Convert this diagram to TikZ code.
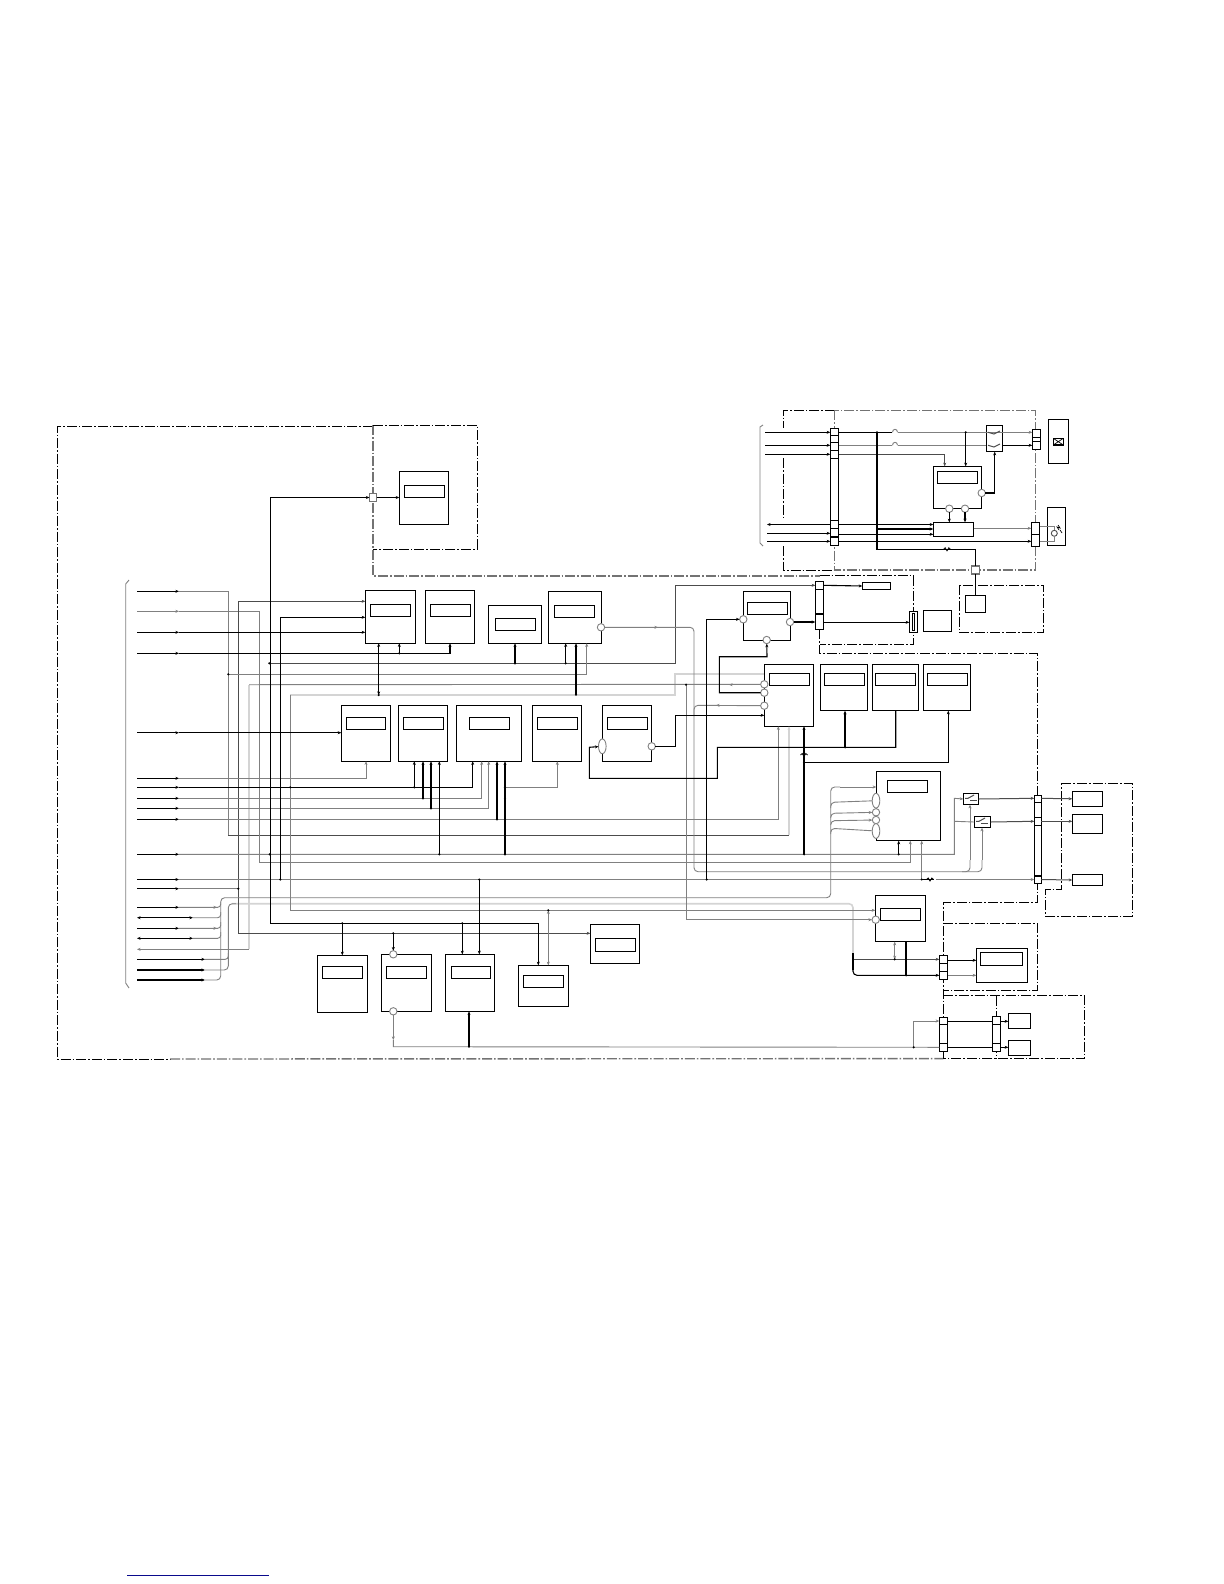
\documentclass[tikz,border=0pt]{standalone}
\usetikzlibrary{arrows.meta,fit,shapes.geometric}
\definecolor{linkblue}{RGB}{10,10,140}
\tikzset{
  >={Stealth[length=1.8pt,width=1.5pt]},
  box/.style={draw=black,fill=white,line width=.6pt,inner sep=0pt,outer sep=0pt},
  tag/.style={draw=black,fill=white,line width=.55pt,inner sep=0pt,outer sep=0pt},
  plug/.style={draw=black,fill=white,line width=.55pt,inner sep=0pt,outer sep=0pt},
  sq/.style={draw=black!55,fill=white,line width=.6pt,inner sep=0pt,outer sep=0pt},
  port/.style={circle,draw=black!50,fill=white,line width=.45pt,inner sep=0pt,outer sep=0pt,minimum size=3.7pt},
  oval/.style={ellipse,draw=black!50,fill=white,line width=.45pt,inner sep=0pt,outer sep=0pt,minimum width=3.8pt,minimum height=7.4pt},
  blk/.style={draw=black,line width=.55pt},
  gry/.style={draw=black!50,line width=.45pt},
  drk/.style={draw=black!70,line width=.5pt},
  lgt/.style={draw=black!17,line width=.8pt},
  dd/.style={draw=black,line width=.45pt,dash pattern=on 5pt off 1pt on .8pt off 1pt},
  ddg/.style={draw=black!55,line width=.7pt,dash pattern=on 5pt off 1pt on .8pt off 1pt},
}
\newcommand\bx[6][box]{\node[#1,fit={(#3,#4)(#5,#6)}] (#2) {};}
\newcommand\dv[2]{\draw[line width=.55pt] (#1.west |- 0,#2) -- (#1.east |- 0,#2);}
\newcommand\dt[2]{\fill[black] (#1,#2) circle (1.2);}
\newcommand\inl[1]{\draw[blk,->] (137,#1) -- (179,#1);}
\newcommand\bump[3][gry]{\draw[#1] (#2-2.5,#3) .. controls (#2-2.5,#3-4) and (#2+2.5,#3-4) .. (#2+2.5,#3);}
\newcommand\zig[2]{\draw[blk,line width=.4pt] (#1-3.5,#2) -- (#1-1.8,#2-1.5) -- (#1,#2+1.5) -- (#1+1.8,#2-1.5) -- (#1+3.5,#2);}
\begin{document}
\begin{tikzpicture}[x=.5pt,y=-.5pt]
\useasboundingbox (0,0) rectangle (1224,1584);
\fill[white] (0,0) rectangle (1224,1584);

% ---------- frames
\draw[dd] (373,426) -- (57.5,426) -- (57.5,1059) -- (170,1059);
\draw[ddg] (170,1059) -- (943.3,1058.6);
\draw[ddg] (373,425) -- (373,576) -- (820,576);
\draw[dd] (373,425) -- (477,425) -- (477,549) -- (373,549);
\draw[dd] (834.7,410.3) -- (783.3,410.3) -- (783.3,428);
\draw[dd] (783.3,458) -- (783.3,518);
\draw[dd] (783.3,546) -- (783.3,570) -- (834.7,570);
\draw[ddg] (834.7,410.3) rectangle (1035.7,570);
\draw[dd] (959.3,585.3) rectangle (1043.7,632.3);
\draw[dd] (819.7,575.7) -- (913.3,575.7) -- (913.3,644.3) -- (819.7,644.3);
\draw[dd] (819.7,629.3) -- (819.7,653.7) -- (1037.3,653.7) -- (1037.3,902.7) -- (943.3,902.7) -- (943.3,1058.6);
\draw[dd] (1061.3,783.7) -- (1132.6,783.7) -- (1132.6,916) -- (1045.7,916) -- (1045.7,889.3) -- (1061.3,889.3) -- cycle;
\draw[dd] (943.3,923.3) -- (1037.3,923.3) -- (1037.3,990.3) -- (943.3,990.3);
\draw[dd] (943.3,995.7) -- (1084.7,995.7) -- (1084.7,1058.3) -- (943.3,1058.3);
\draw[dd] (996.3,995.7) -- (996.3,1058.3);

% ---------- braces
\draw[gry] (129,580) -- (125.7,584) -- (125.7,983) -- (129,988);
\draw[gry] (763,425) -- (760,427) -- (760,543) -- (763,546);

% ---------- boxes with their windows
\bx{A}{399.3}{471.3}{448.7}{524.7} \bx[tag]{Aw}{404.3}{485.3}{444.7}{497.3}
\bx{B}{365.3}{590.3}{415.7}{643.3} \bx[tag]{Bw}{370.3}{604.3}{410.7}{616.7}
\bx{C}{425.3}{590.3}{474.7}{643.3} \bx[tag]{Cw}{430.3}{604.3}{470.7}{616.7}
\bx{D}{488.3}{605.3}{541.7}{643.3} \bx[tag]{Dw}{495.3}{618.3}{535.7}{630.7}
\bx{E}{548.3}{591.3}{601.7}{643.3} \bx[tag]{Ew}{554.3}{605.3}{594.7}{617.7}
\bx{Fa}{341.3}{705.3}{390.7}{761.3} \bx[tag]{Faw}{346.3}{717.3}{385.7}{729.7}
\bx{Fb}{398.3}{705.3}{447.7}{761.3} \bx[tag]{Fbw}{403.3}{717.3}{443.7}{729.7}
\bx{Fc}{456.3}{705.3}{521.7}{761.3} \bx[tag]{Fcw}{469.3}{717.3}{509.7}{729.7}
\bx{Fd}{532.3}{705.3}{581.7}{761.3} \bx[tag]{Fdw}{537.3}{717.3}{577.7}{729.7}
\bx{Fe}{602.3}{705.3}{651.7}{761.3} \bx[tag]{Few}{607.3}{717.3}{647.7}{729.7}
\bx{H}{764.3}{664.3}{813.7}{726.3} \bx[tag]{Hw}{769.3}{673.3}{809.7}{685.7}
\bx{I}{743.3}{591.7}{790.7}{640.3} \bx[tag]{Iw}{747.3}{602.3}{787.7}{614.7}
\bx{Na}{820.3}{664.3}{867.7}{710.7} \bx[tag]{Naw}{824.3}{673.3}{864.7}{685.3}
\bx{Nb}{872.3}{664.3}{918.7}{710.7} \bx[tag]{Nbw}{875.3}{673.3}{915.7}{685.3}
\bx{Nc}{923.3}{664.3}{970.7}{710.7} \bx[tag]{Ncw}{927.3}{673.3}{967.7}{685.3}
\bx{J}{876.3}{771.3}{940.3}{840.7} \bx[tag]{Jw}{887.3}{780.3}{927.7}{792.7}
\bx{K}{875.3}{895.3}{925.7}{941.7} \bx[tag]{Kw}{880.3}{908.3}{920.7}{920.7}
\bx{La}{317.3}{955.3}{367.7}{1012.7} \bx[tag]{Law}{322.3}{966.3}{362.7}{978.7}
\bx{Lb}{381.3}{954.3}{431.7}{1011.3} \bx[tag]{Lbw}{386.3}{966.3}{426.7}{978.7}
\bx{Lc}{445.3}{954.3}{494.7}{1011.3} \bx[tag]{Lcw}{451.3}{966.3}{490.7}{978.7}
\bx{Ld}{518.3}{965.3}{568.3}{1006.7} \bx[tag]{Ldw}{523.3}{975.3}{563.7}{987.7}
\bx{G}{590.3}{924.3}{639.7}{963.3} \bx[tag]{Gw}{595.3}{938.3}{635.7}{951.7}
\bx{Q}{933.3}{466.3}{981.7}{508.7} \bx[tag]{Qw}{937.3}{471.3}{977.7}{483.3}
\bx{O}{976.3}{948.3}{1027.7}{982.3} \bx[tag]{Ow}{980.3}{952.3}{1022.7}{965.7}
\bx{R}{933.3}{522.3}{973.7}{536.7}
\bx{W}{965.3}{595.3}{985.7}{612.7}
\bx{Xb}{923.3}{610.3}{951.7}{631.3}
\bx{Tb}{862.3}{582.3}{890.7}{589.7}
\bx{Ya}{1072.3}{791.3}{1102.7}{806.3}
\bx{Yb}{1072.3}{814.3}{1102.7}{833.7}
\bx{Yc}{1072.3}{874.3}{1102.7}{885.7}
\bx{Pa}{1008.3}{1013.3}{1030.7}{1028.7}
\bx{Pb}{1008.3}{1040.3}{1030.7}{1055.7}
\bx{M}{1048.3}{419.3}{1068.7}{463.3}
\bx{Lp}{1047.3}{507.3}{1065.7}{545.7}
\bx{Sw}{986.3}{425.3}{1002.7}{451.7}
\bx{Sa}{963.3}{793.3}{978.7}{804.7}
\bx{Sb}{974.3}{816.3}{990.7}{827.7}
\bx{Fu}{909.3}{611.3}{917.7}{632.3} \bx[tag]{Fui}{912.3}{613.7}{914.7}{630.3}
\bx[tag]{Mx}{1053.3}{438.3}{1063.3}{445}
\draw[line width=.35pt] (Mx.north west) -- (Mx.south east) (Mx.north east) -- (Mx.south west);

% ---------- plugs
\bx[plug]{Ca}{815.3}{581.3}{823.3}{629.3} \dv{Ca}{589.3} \dv{Ca}{614}
\bx[plug]{Cb}{830.3}{428.3}{838.7}{545.7} \dv{Cb}{435.7} \dv{Cb}{442.7} \dv{Cb}{450.7} \dv{Cb}{458.7} \dv{Cb}{520.3} \dv{Cb}{528.3} \dv{Cb}{537}
\bx[plug]{Cc}{1032.3}{429.3}{1040.7}{449.3} \dv{Cc}{437.3} \dv{Cc}{441.3}
\bx[plug]{Cd}{1031.3}{522.3}{1039.7}{546.3} \dv{Cd}{534.3}
\bx[plug]{Ce}{1034.3}{795.3}{1041.3}{883.7} \dv{Ce}{802.3} \dv{Ce}{817.7} \dv{Ce}{825.3} \dv{Ce}{876}
\bx[plug]{Cf}{939.3}{955.3}{947.7}{979.7} \dv{Cf}{963.3} \dv{Cf}{971.7}
\bx[plug]{Cg}{939.3}{1017.3}{947.7}{1051.3} \dv{Cg}{1024.3} \dv{Cg}{1043.7}
\bx[plug]{Ch}{992.3}{1016.3}{1000.7}{1051.3} \dv{Ch}{1024.3} \dv{Ch}{1043.3}
\bx[sq]{Sqa}{369.5}{493.7}{376.8}{501.3}
\bx[sq]{Sqb}{971.7}{566}{979.7}{574}

% ---------- ports
\node[port] (pe) at (601,627.3) {};
\node[port] (pi1) at (743.3,619.3) {};
\node[port] (pi2) at (790,622) {};
\node[port] (pi3) at (766.7,640) {};
\node[port] (ph1) at (764.3,684.3) {};
\node[port] (ph2) at (764.3,692.7) {};
\node[port] (ph3) at (764.3,705.7) {};
\node[oval] (pfa) at (602.3,746.3) {};
\node[port] (pfb) at (651.7,746.3) {};
\node[oval] (pj1) at (876,800.7) {};
\node[port] (pj2) at (876,812.3) {};
\node[port] (pj3) at (876,820) {};
\node[oval] (pj4) at (876,831) {};
\node[port] (pk) at (875.7,919.7) {};
\node[port] (pla) at (393.3,954.3) {};
\node[port] (plb) at (393.3,1011.3) {};
\node[port] (pq1) at (981.7,493) {};
\node[port] (pq2) at (949.3,508.7) {};
\node[port] (pq3) at (965,508.7) {};
\node[port,minimum size=3pt,draw=black!70] (plamp) at (1054.3,533.3) {};

% ---------- light lines
\draw[lgt] (249,684.7) -- (249,949.3);
\draw[lgt] (290.3,695) -- (674.7,695) -- (674.7,674) -- (H.west |- 0,674);
\draw[lgt,rounded corners=2pt] (232,903.7) -- (853,903.7) -- (853,953);

% ---------- grey lines
\draw[gry] (179,591.3) -- (228.3,591.3) -- (228.3,835.3);
\draw[drk] (228.3,835.3) -- (789,835.3);
\draw[lgt,->] (789,835.3) -- (789,0 |- H.south);
\draw[gry,->] (137,611.3) -- (179,611.3);
\draw[gry,->] (179,611.3) -- (259.3,611.3) -- (259.3,862.5) -- (910.3,862.5) -- (910.3,0 |- J.south);
\draw[drk,->] (238.3,933.3) -- (238.3,601.3) -- (B.west |- 0,601.3);
\draw[drk,->] (238.3,933.3) -- (G.west |- 0,933.3);
\draw[gry] (179,888.7) -- (238.3,888.7);
\draw[drk,->] (269.3,663.3) -- (675.7,663.3) -- (675.7,585.3) -- (Ca.west |- 0,585.3);
\draw[gry,->] (228,674.3) -- (586.7,674.3) -- (586.7,0 |- E.south);
\draw[gry] (249,684.7) -- (ph1);
\draw[gry,<-] (729,684.7) -- (735,684.7);
\draw[gry] (249,949.3) -- (145,949.3);
\draw[gry,->] (145,949.3) -- (137,949.3);
\draw[gry,->] (290.3,695) -- (290.3,910.3) -- (K.west |- 0,910.3);
\draw[gry,->] (686,684.7) -- (686,919.7) -- (pk);
\draw[gry,rounded corners=2pt] (pe) -- (694,627.3) -- (694,871.7) -- (982,871.7) -- (982,860);
\draw[gry,->] (982,860) -- (982,0 |- Sb.south);
\draw[gry,rounded corners=2pt] (962,871.7) -- (970,871.7) -- (970,860);
\draw[gry,->] (970,860) -- (970,0 |- Sa.south);
\draw[gry,->] (650,627.3) -- (658,627.3);
\draw[gry,rounded corners=2pt] (ph3) -- (694,705.3) -- (694,716);
\draw[gry,->] (725,705.3) -- (716,705.3);
\draw[gry,->] (179,778.3) -- (366,778.3) -- (366,0 |- Fa.south);
\draw[gry,->] (179,798.3) -- (481.7,798.3) -- (481.7,0 |- Fc.south);
\draw[gry,->] (179,808.3) -- (488.7,808.3) -- (488.7,0 |- Fc.south);
\draw[gry,->] (179,819.3) -- (778.3,819.3) -- (778.3,0 |- H.south);
\draw[gry,->] (505,787.3) -- (557.3,787.3) -- (557.3,0 |- Fd.south);
\draw[gry,->] (179,854.3) -- (954.3,854.3) -- (954.3,798.3) -- (Sa.west);
\draw[gry] (954.3,821.3) -- (Sb.west);
\draw[gry,->] (179,879.5) -- (921.7,879.5) -- (921.7,0 |- J.south);
\draw[gry,->] (936,879.5) -- (Ce.west |- 0,879.5);
\draw[drk,->] (Ce.east |- 0,879.5) -- (Yc.west);
\draw[drk,->] (Sa.east) -- (Ce.west |- 0,798.3);
\draw[drk,->] (Sb.east) -- (Ce.west |- 0,821.3);
\draw[drk,->] (Ce.east |- 0,798.3) -- (Ya.west);
\draw[drk,->] (Ce.east |- 0,821.3) -- (Yb.west |- 0,821.3);
\draw[gry,rounded corners=2pt] (205,980) -- (220.7,980) -- (220.7,897.7) -- (830.7,897.7) -- (830.7,787) -- (840,787);
\draw[gry,->] (840,787) -- (J.west |- 0,787);
\draw[gry,rounded corners=2pt] (830.7,808) -- (830.7,802.3) -- (pj1);
\draw[gry,<-,rounded corners=2pt] (pj2) -- (830.7,813.3) -- (830.7,818);
\draw[gry,<-,rounded corners=2pt] (pj3) -- (830.7,820.7) -- (830.7,825);
\draw[gry,rounded corners=2pt] (830.7,834) -- (830.7,828.3) -- (pj4);
\draw[gry,rounded corners=1.5pt] (179,907.3) -- (220.7,907.3) -- (220.7,902);
\draw[gry,->] (205,907.3) -- (217,907.3);
\draw[gry,rounded corners=1.5pt] (193,917.7) -- (220.7,917.7) -- (220.7,912);
\draw[gry,rounded corners=1.5pt] (179,928.3) -- (220.7,928.3) -- (220.7,922);
\draw[gry,->] (205,928.3) -- (217,928.3);
\draw[gry,rounded corners=1.5pt] (193,938.3) -- (220.7,938.3) -- (220.7,932);
\draw[gry,rounded corners=2pt] (236,903.7) -- (228.3,903.7) -- (228.3,970) -- (205,970);
\draw[gry,rounded corners=1.5pt] (205,959.3) -- (228.3,959.3) -- (228.3,953);
\draw[gry,<->] (548.3,910.3) -- (548.3,0 |- Ld.north);
\draw[gry,->] (plb) -- (393.3,1040);
\draw[gry] (393.3,1040) -- (393.3,1046.7) -- (Cg.west |- 0,1047.3);
\draw[gry,->] (913.7,1047.3) -- (913.7,1021) -- (Cg.west |- 0,1021);
\draw[gry,<->] (894.7,959.3) -- (894.7,0 |- K.south);
\draw[drk,->,rounded corners=2pt] (853,959.3) -- (Cf.west |- 0,959.3);
\draw[gry,->] (Cf.east |- 0,975.3) -- (O.west |- 0,975.3);
% top right group, grey
\draw[gry,->] (898,432.3) -- (Cc.west |- 0,432.3);
\draw[gry] (898,445.3) -- (Sw.west |- 0,445.3);
\draw[gry] (838.7,445.3) -- (892,445.3);
\bump{895}{445.3}
\bump{895}{432.3}
\draw[gry,->] (R.east |- 0,528.3) -- (Cd.west |- 0,528.3);
\draw[gry] (Cd.east |- 0,526.7) -- (1054.3,526.7) -- (plamp);
\draw[gry] (Cd.east |- 0,541.3) -- (1054.3,541.3) -- (plamp);

% ---------- black lines
\inl{591.3} \inl{632.3} \inl{653.3} \inl{732.7} \inl{778.3} \inl{787.3} \inl{798.3} \inl{808.3} \inl{819.3} \inl{854.3} \inl{879.5} \inl{888.7} \inl{907.3} \inl{928.3}
\draw[blk,<->] (193,917.7) -- (137,917.7);
\draw[blk,<->] (193,938.3) -- (137,938.3);
\draw[blk,->] (137,959.3) -- (205,959.3);
\draw[blk,->] (137,970) -- (205,970);
\draw[blk,->] (137,980) -- (205,980);
\draw[blk,->] (179,632.3) -- (B.west |- 0,632.3);
\draw[blk,->] (179,653.3) -- (450,653.3) -- (450,0 |- C.south);
\draw[blk,->] (399.3,653.3) -- (399.3,0 |- B.south);
\draw[blk,<->] (378.7,695) -- (378.7,0 |- B.south);
\draw[blk,->] (179,732.7) -- (Fa.west |- 0,732.7);
\draw[blk,->] (270.3,923.3) -- (270.3,497.5) -- (Sqa.west);
\draw[blk,->] (Sqa.east) -- (A.west |- 0,497.5);
\draw[blk] (270.3,923.3) -- (538.3,923.3);
\draw[blk,->] (538.3,923.3) -- (538.3,0 |- Ld.north);
\draw[blk,->] (280.3,879.5) -- (280.3,617.3) -- (B.west |- 0,617.3);
\draw[blk,->] (515,663.3) -- (515,0 |- D.south);
\draw[blk,->] (565.7,663.3) -- (565.7,0 |- E.south);
\draw[blk,->] (576,694.7) -- (576,0 |- E.south);
\draw[blk,->] (179,787.3) -- (472.7,787.3) -- (472.7,0 |- Fc.south);
\draw[blk,->] (414.3,787.3) -- (414.3,0 |- Fb.south);
\draw[blk,->] (423,798.3) -- (423,0 |- Fb.south);
\draw[blk,->] (431,808.3) -- (431,0 |- Fb.south);
\draw[blk,->] (439.3,854.3) -- (439.3,0 |- Fb.south);
\draw[blk,->] (497,819.3) -- (497,0 |- Fc.south);
\draw[blk,->] (505,854.3) -- (505,0 |- Fc.south);
\draw[blk,->] (804,854.3) -- (804,0 |- H.south);
\draw[blk,->] (898.7,854.3) -- (898.7,0 |- J.south);
\draw[blk,->] (706.7,879.5) -- (706.7,619.3) -- (pi1);
\draw[blk] (921.7,879.5) -- (934,879.5);
\zig{930}{879.5}
\draw[blk,->] (342.3,923.3) -- (342.3,0 |- La.north);
\draw[blk,->] (393.3,933.3) -- (pla);
\draw[blk,->] (462.3,923.3) -- (462.3,0 |- Lc.north);
\draw[blk,->] (479.3,879.5) -- (479.3,0 |- Lc.north);
\draw[blk,<-] (469,0 |- Lc.south) -- (469,1046.7);
\draw[blk,->] (pfb) -- (675.3,746.3) -- (675.3,715.3) -- (H.west |- 0,715.3);
\draw[blk,<-] (pfa) -- (589.3,747.3) -- (589.3,778.3) -- (717.3,778.3) -- (717.3,747.3) -- (895.7,747.3) -- (895.7,0 |- Nb.south);
\draw[blk,->] (845,747.3) -- (845,0 |- Na.south);
\draw[blk,->] (804,762.3) -- (948.3,762.3) -- (948.3,0 |- Nc.south);
\zig{804}{755}
\draw[blk,->] (ph2) -- (719.3,692.7) -- (719.3,656.7) -- (767,656.7) -- (pi3);
\draw[blk,->] (pi2) -- (Ca.west |- 0,622);
\draw[blk,->] (Ca.east |- 0,585.3) -- (Tb.west);
\draw[blk,->] (Ca.east |- 0,622.3) -- (Fu.west |- 0,622.3);
% top right, black
\draw[blk,->] (765,432.3) -- (Cb.west |- 0,432.3);
\draw[blk,->] (765,445.3) -- (Cb.west |- 0,445.3);
\draw[blk,->] (765,454.3) -- (Cb.west |- 0,454.3);
\draw[blk,<-] (767,524.5) -- (Cb.west |- 0,524.5);
\draw[blk,->] (767,533.3) -- (Cb.west |- 0,533.3);
\draw[blk,->] (767,541.3) -- (Cb.west |- 0,541.3);
\draw[blk] (Cb.east |- 0,432.3) -- (892,432.3);
\draw[drk,->] (Cb.east |- 0,454.3) -- (944.7,454.3) -- (944.7,0 |- Q.north);
\draw[blk,->] (965.7,432.3) -- (965.7,0 |- Q.north);
\draw[blk,->] (pq1) -- (994.7,493) -- (994.7,0 |- Sw.south);
\draw[blk,->] (pq2) -- (949.3,0 |- R.north);
\draw[blk,->] (pq3) -- (965,0 |- R.north);
\draw[blk,->] (Sw.east |- 0,445.3) -- (Cc.west |- 0,445.3);
\draw[blk,->] (Cb.east |- 0,524.5) -- (R.west |- 0,524.5);
\draw[blk,->] (877,529) -- (R.west |- 0,529);
\draw[blk,->] (Cb.east |- 0,534.3) -- (R.west |- 0,534.3);
\draw[blk,->] (Cb.east |- 0,541.3) -- (Cd.west |- 0,541.3);
\draw[blk] (877,432.3) -- (877,549.3) -- (975.7,549.3) -- (Sqb.north);
\zig{947}{549.3}
\draw[blk] (Sqb.south) -- (W.north -| Sqb.south);
% bottom right, black
\draw[blk] (853,953) -- (853,970);
\draw[blk,rounded corners=2pt,->] (853,968) -- (853,975.3) -- (Cf.west |- 0,975.3);
\draw[blk] (906,975.3) -- (906,0 |- K.south);
\draw[blk,->] (Cf.east |- 0,960.3) -- (O.west |- 0,960.3);
\draw[blk] (Cg.east |- 0,1021.3) -- (Ch.west |- 0,1021.3);
\draw[blk] (Cg.east |- 0,1047.3) -- (Ch.west |- 0,1047.3);
\draw[blk,->] (Ch.east |- 0,1021.3) -- (Pa.west |- 0,1021.3);
\draw[blk,->] (Ch.east |- 0,1047.3) -- (Pb.west |- 0,1047.3);

% ---------- switches and lamp
\draw[drk] (965,798.3) -- (968,798.3) -- (974,795);
\draw[drk] (970,800) -- (977,800);
\draw[drk] (976,821.3) -- (979,821.3) -- (985,818);
\draw[drk] (981,823) -- (988,823);
\draw[drk] (988,432.3) -- (994,434) -- (1000,431);
\draw[drk] (988,445.3) -- (994,447) -- (1000,444);
\draw[line width=.35pt] (1059,530) -- (1057,527) -- (1060,528) -- (1058,525);
\draw[line width=.35pt] (1062,533) -- (1060,530);

% ---------- dots
\dt{228.3}{674.3} \dt{269.3}{663.3} \dt{269.7}{854.3} \dt{280.3}{879.5} \dt{238.3}{888.7}
\dt{290.3}{787.3} \dt{378.7}{695} \dt{399.3}{653.3} \dt{515}{663.3} \dt{565.7}{663.3} \dt{576}{694.7}
\dt{414.3}{787.3} \dt{423}{798.3} \dt{431}{808.3} \dt{439.3}{854.3} \dt{497}{819.3} \dt{505}{854.3}
\dt{505}{787.3} \dt{505}{798.7} \dt{686}{684.7} \dt{706.7}{879.5} \dt{804}{747.3} \dt{804}{762.3}
\dt{804}{854.3} \dt{845}{747.3} \dt{898.7}{854.3} \dt{921.7}{879.5} \dt{342.3}{923.3} \dt{393.3}{933.3}
\dt{462.3}{923.3} \dt{479.3}{879.5} \dt{548.3}{910.3} \dt{469}{1046.7} \dt{913.7}{1047.3}
\dt{894.7}{959.3} \dt{906}{975.3} \dt{965.7}{432.3} \dt{877}{432.3} \dt{877}{529}

% ---------- link rule at the foot of the page
\draw[draw=linkblue,line width=.5pt] (127,1575) -- (269,1575);
\end{tikzpicture}
\end{document}
